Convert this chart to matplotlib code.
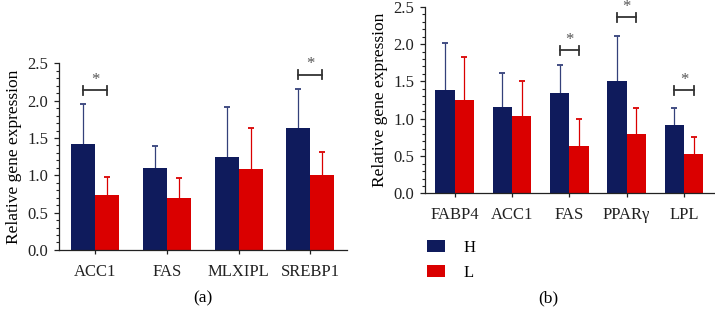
import numpy as np
import matplotlib
matplotlib.use("Agg")
import matplotlib.pyplot as plt
from matplotlib.ticker import MultipleLocator

plt.rcParams["font.family"] = ["Liberation Serif", "DejaVu Serif"]

# ─── Data ─────────────────────────────────────────────────────────────────────

genes_a = ["ACC1", "FAS", "MLXIPL", "SREBP1"]
h_a     = [1.42, 1.10, 1.24, 1.64]
h_a_err = [0.53, 0.29, 0.68, 0.51]
l_a     = [0.73, 0.69, 1.08, 1.01]
l_a_err = [0.25, 0.28, 0.56, 0.30]
sig_a   = {0: 2.14, 3: 2.35}          # gene index -> bracket height

genes_b = ["FABP4", "ACC1", "FAS", "PPARγ", "LPL"]
h_b     = [1.38, 1.16, 1.35, 1.51, 0.91]
h_b_err = [0.64, 0.45, 0.37, 0.60, 0.23]
l_b     = [1.25, 1.04, 0.64, 0.79, 0.53]
l_b_err = [0.58, 0.47, 0.35, 0.36, 0.23]
sig_b   = {2: 1.92, 3: 2.36, 4: 1.38}

NAVY = "#0f1b5c"
RED  = "#da0000"
GREY = "#333333"
W    = 0.335
FS   = 12


def up_errorbar(ax, x, y, err, color):
    _, caps, _ = ax.errorbar(x, y, yerr=[np.zeros(len(y)), err], fmt="none",
                             ecolor=color, elinewidth=0.9, capsize=2.2,
                             capthick=1.3, zorder=1)
    caps[0].set_visible(False)          # keep only the upper cap


def draw_panel(ax, genes, h, h_err, l, l_err, sig, xlim):
    x = np.arange(len(genes))
    ax.bar(x - W / 2, h, W, color=NAVY, label="H", zorder=2)
    ax.bar(x + W / 2, l, W, color=RED, label="L", zorder=2)
    up_errorbar(ax, x - W / 2, h, h_err, "#34407a")
    up_errorbar(ax, x + W / 2, l, l_err, RED)

    for i, y in sig.items():
        x0, x1 = i - W / 2, i + W / 2
        ax.plot([x0, x1], [y, y], color=GREY, lw=1.3, clip_on=False)
        ax.plot([x0, x0], [y - 0.06, y + 0.06], color=GREY, lw=1.3, clip_on=False)
        ax.plot([x1, x1], [y - 0.06, y + 0.06], color=GREY, lw=1.3, clip_on=False)
        ax.text(i, y + 0.03, "*", ha="center", va="bottom", fontsize=12,
                color="#555555", clip_on=False)

    ax.set_xlim(*xlim)
    ax.set_ylim(0, 2.5)
    ax.set_xticks(x)
    ax.set_xticklabels(genes, fontsize=FS)
    ax.yaxis.set_major_locator(MultipleLocator(0.5))
    ax.yaxis.set_minor_locator(MultipleLocator(0.1))
    ax.yaxis.set_major_formatter(plt.FormatStrFormatter("%.1f"))
    ax.tick_params(axis="y", labelsize=FS, length=3.5, width=0.9,
                   colors="#222222", pad=4.5)
    ax.tick_params(axis="y", which="minor", length=2, width=0.8, colors="#222222")
    ax.tick_params(axis="x", length=3, width=0.9, colors="#222222", pad=7)
    ax.set_ylabel("Relative gene expression", fontsize=12.5, labelpad=4)
    for s in ("top", "right"):
        ax.spines[s].set_visible(False)
    for s in ("left", "bottom"):
        ax.spines[s].set_linewidth(0.9)
        ax.spines[s].set_color("#222222")


fig = plt.figure(figsize=(7.15, 3.12), dpi=100)

ax_a = fig.add_axes([0.083, 0.199, 0.402, 0.598])
draw_panel(ax_a, genes_a, h_a, h_a_err, l_a, l_a_err, sig_a, (-0.5, 3.51))

ax_b = fig.add_axes([0.595, 0.380, 0.405, 0.5985])
draw_panel(ax_b, genes_b, h_b, h_b_err, l_b, l_b_err, sig_b, (-0.51, 4.54))

fig.legend(*ax_b.get_legend_handles_labels(), loc="upper left",
           bbox_to_anchor=(0.597, 0.232), frameon=False, fontsize=FS,
           handlelength=1.1, handleheight=0.75, labelspacing=0.55,
           handletextpad=1.1, borderpad=0, borderaxespad=0)

fig.text(0.284, 0.045, "(a)", ha="center", va="center", fontsize=12.5)
fig.text(0.767, 0.045, "(b)", ha="center", va="center", fontsize=12.5)

fig.savefig("out.png", dpi=100)
